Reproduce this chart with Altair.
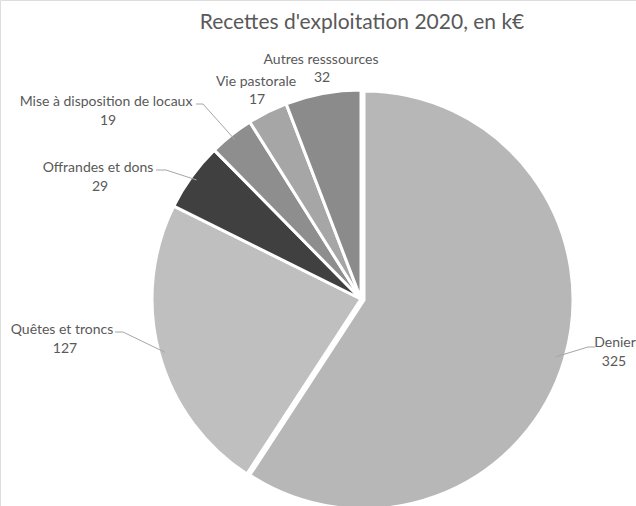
import math
import altair as alt
import pandas as pd

# ---- data ----
categories = ["Denier", "Quêtes et troncs", "Offrandes et dons",
              "Mise à disposition de locaux", "Vie pastorale", "Autres resssources"]
values = [325, 127, 29, 19, 17, 32]
title_text = "Recettes d'exploitation 2020, en k€"

# ---- styles / layout ----
colors = ["#b7b7b7", "#bfbfbf", "#404040", "#8e8e8e", "#a6a6a6", "#8b8b8b"]
TEXT_COLOR = "#595959"
FONT = "Lato"
LABEL_SIZE = 14
CX, CY, R = 361, 299, 209
EXPLODE = (3, 1)   # Denier slice offset
label_layout = {
    "Denier": dict(nx=615, ny=343, vx=614, vy=362, elbow=(588, 347), end=(595, 347)),
    "Quêtes et troncs": dict(nx=62, ny=330, vx=65, vy=349, elbow=(123, 332), end=(115, 332)),
    "Offrandes et dons": dict(nx=98, ny=168, vx=100, vy=187, elbow=(166, 170), end=(156, 170)),
    "Mise à disposition de locaux": dict(nx=106, ny=102, vx=108, vy=121, elbow=(203, 104), end=(196, 104)),
    "Vie pastorale": dict(nx=256, ny=82, vx=257, vy=100),
    "Autres resssources": dict(nx=321, ny=60, vx=322, vy=78),
}

total = sum(values)
starts, ends, acc = [], [], 0
for v in values:
    starts.append(acc)
    acc += v
    ends.append(acc)

slices = pd.DataFrame({"cat": categories, "value": values, "start": starts, "end": ends})

# labels
lab_rows, lead_rows = [], []
for c, v, s, e in zip(categories, values, starts, ends):
    L = label_layout[c]
    lab_rows.append(dict(cat=c, name=c, val=str(v), nx=L["nx"], ny=L["ny"], vx=L["vx"], vy=L["vy"]))
    if "elbow" in L:
        ang = (s + e) / 2 / total * 2 * math.pi
        px = CX + 203 * math.sin(ang)
        py = CY - 203 * math.cos(ang)
        for i, (x, y) in enumerate([(px, py), L["elbow"], L["end"]]):
            lead_rows.append(dict(cat=c, i=i, x=x, y=y))
labels = pd.DataFrame(lab_rows)
leaders = pd.DataFrame(lead_rows)

theta_scale = alt.Scale(domain=[0, total], range=[0, 2 * math.pi])
color_enc = alt.Color("cat:N", scale=alt.Scale(domain=categories, range=colors), legend=None)

base_arc = alt.Chart(slices).mark_arc(stroke="white", strokeWidth=3, outerRadius=R)

others = base_arc.encode(
    theta=alt.Theta("start:Q", scale=theta_scale),
    theta2="end:Q",
    color=color_enc,
    x=alt.value(CX), y=alt.value(CY),
).transform_filter(alt.datum.cat != "Denier")

denier = base_arc.encode(
    theta=alt.Theta("start:Q", scale=theta_scale),
    theta2="end:Q",
    color=color_enc,
    x=alt.value(CX + EXPLODE[0]), y=alt.value(CY + EXPLODE[1]),
).transform_filter(alt.datum.cat == "Denier")

lines = alt.Chart(leaders).mark_line(color="#a6a6a6", strokeWidth=1).encode(
    x=alt.X("x:Q", scale=None),
    y=alt.Y("y:Q", scale=None),
    detail="cat:N",
    order="i:Q",
)

names = alt.Chart(labels).mark_text(font=FONT, fontSize=LABEL_SIZE, color=TEXT_COLOR,
                                    align="center", baseline="middle").encode(
    x=alt.X("nx:Q", scale=None), y=alt.Y("ny:Q", scale=None), text="name:N")
vals = alt.Chart(labels).mark_text(font=FONT, fontSize=LABEL_SIZE, color=TEXT_COLOR,
                                   align="center", baseline="middle").encode(
    x=alt.X("vx:Q", scale=None), y=alt.Y("vy:Q", scale=None), text="val:N")

title = alt.Chart(pd.DataFrame({"t": [title_text]})).mark_text(
    font=FONT, fontSize=21, color=TEXT_COLOR, align="center", baseline="middle"
).encode(x=alt.value(362), y=alt.value(23), text="t:N")

chart = alt.layer(others, denier, lines, names, vals, title).properties(
    width=636, height=506, autosize=alt.AutoSizeParams(type="none"), padding=0
).configure_view(stroke=None).configure(background="white")

chart.save("out.html", embed_options={"renderer": "svg", "actions": False})
